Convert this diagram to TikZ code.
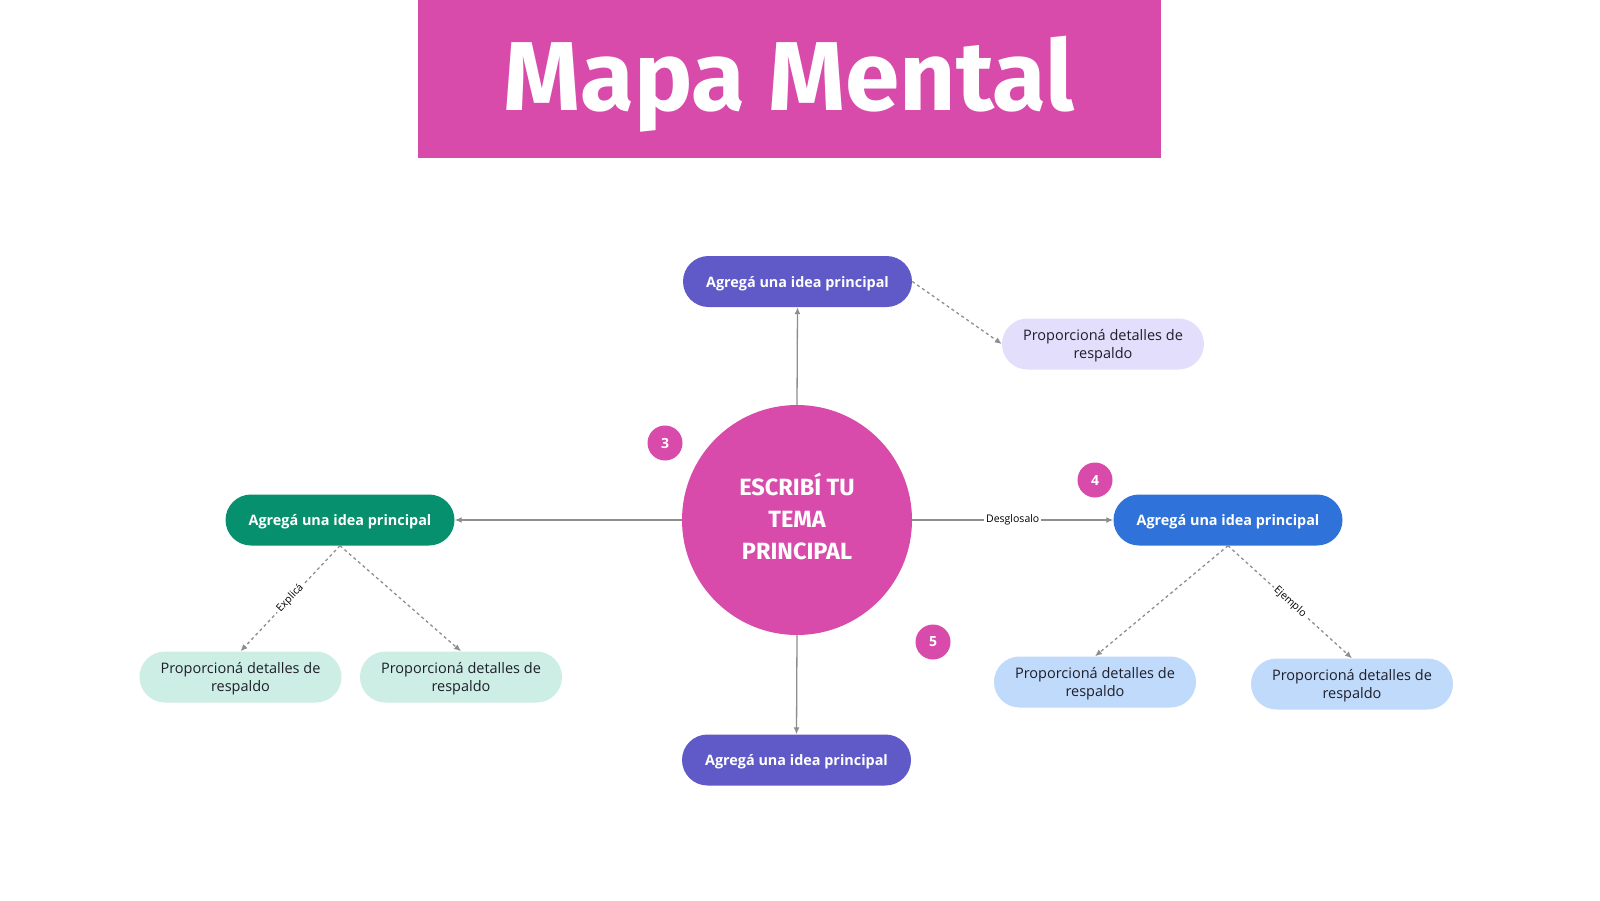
\documentclass[tikz,border=0pt]{standalone}
\usepackage{fontspec}
\setmainfont{Open Sans}
\newfontfamily\headfont{Fira Sans}
\usetikzlibrary{arrows.meta}
\definecolor{mapmagenta}{HTML}{D84BAA}
\definecolor{ideapurple}{HTML}{5F5AC8}
\definecolor{ideagreen}{HTML}{06906D}
\definecolor{ideablue}{HTML}{2F72D9}
\definecolor{detlavender}{HTML}{E3DEFC}
\definecolor{detmint}{HTML}{CDEEE5}
\definecolor{detblue}{HTML}{C0DAFB}
\definecolor{linegray}{HTML}{8E8E8E}
\definecolor{textdark}{HTML}{1E1E2A}

\begin{document}
\begin{tikzpicture}[
    x=1pt, y=-1pt,
    idea/.style={rectangle, rounded corners=25.5pt, minimum width=229pt, minimum height=51pt,
        text=white, text depth=0pt, font=\bfseries\fontsize{14.4}{18}\selectfont},
    detail/.style={rectangle, rounded corners=25.5pt, minimum width=202pt, minimum height=51pt,
        text=textdark, align=center, inner sep=2pt, text depth=0pt, font=\fontsize{14.5}{17.5}\selectfont},
    badge/.style={circle, fill=mapmagenta, minimum size=35pt, inner sep=0pt,
        text=white, font=\bfseries\fontsize{14}{14}\selectfont},
    link/.style={draw=linegray, line width=1.3pt, -{Latex[length=7pt, width=6pt]}},
    sublink/.style={link, dashed},
    tag/.style={fill=white, text=black, inner sep=2pt, font=\fontsize{10.5}{10.5}\selectfont}
]

% 1. Canvas and title
\useasboundingbox (0,0) rectangle (1600,900);
\fill[white] (0,0) rectangle (1600,900);
\fill[mapmagenta] (418,0) rectangle (1161,158);
\node[anchor=base, text=white, font=\headfont\bfseries\fontsize{98}{98}\selectfont] (title) at (789,110) {Mapa Mental};

% 2. Central topic
\node[circle, fill=mapmagenta, minimum size=230pt, inner sep=0pt, align=center, text depth=7pt,
    text=white, font=\headfont\bfseries\fontsize{23.5}{32}\selectfont] (topic) at (797,520)
    {ESCRIBÍ TU\\TEMA\\PRINCIPAL};

% 3. Main ideas
\node[idea, fill=ideapurple] (topIdea) at (797.5,281.5) {Agregá una idea principal};
\node[idea, fill=ideagreen] (leftIdea) at (340,520) {Agregá una idea principal};
\node[idea, fill=ideablue] (rightIdea) at (1228,520) {Agregá una idea principal};
\node[idea, fill=ideapurple] (bottomIdea) at (796.5,760) {Agregá una idea principal};

% 4. Supporting details
\node[detail, fill=detlavender] (topDetail) at (1103,344) {Proporcioná detalles de\\respaldo};
\node[detail, fill=detmint] (leftDetailA) at (240.5,677) {Proporcioná detalles de\\respaldo};
\node[detail, fill=detmint] (leftDetailB) at (461,677) {Proporcioná detalles de\\respaldo};
\node[detail, fill=detblue] (rightDetailA) at (1095,682) {Proporcioná detalles de\\respaldo};
\node[detail, fill=detblue] (rightDetailB) at (1352,684) {Proporcioná detalles de\\respaldo};

% 5. Step badges
\node[badge] (stepThree) at (665,443) {3};
\node[badge] (stepFour) at (1095,480) {4};
\node[badge] (stepFive) at (933,642) {5};

% 6. Links from the topic
\draw[link] (topic.north) -- (topIdea.south);
\draw[link] (topic.west) -- (leftIdea.east);
\draw[link] (topic.east) -- (rightIdea.west) node[tag, midway] {Desglosalo};
\draw[link] (topic.south) -- (bottomIdea.north);

% 7. Links to the details
\draw[sublink] (topIdea.east) -- (topDetail.west);
\draw[sublink] (leftIdea.south) -- (leftDetailA.north) node[tag, midway, sloped] {Explicá};
\draw[sublink] (leftIdea.south) -- (leftDetailB.north);
\draw[sublink] (rightIdea.south) -- (rightDetailA.north);
\draw[sublink] (rightIdea.south) -- (rightDetailB.north) node[tag, midway, sloped] {Ejemplo};

\end{tikzpicture}
\end{document}
